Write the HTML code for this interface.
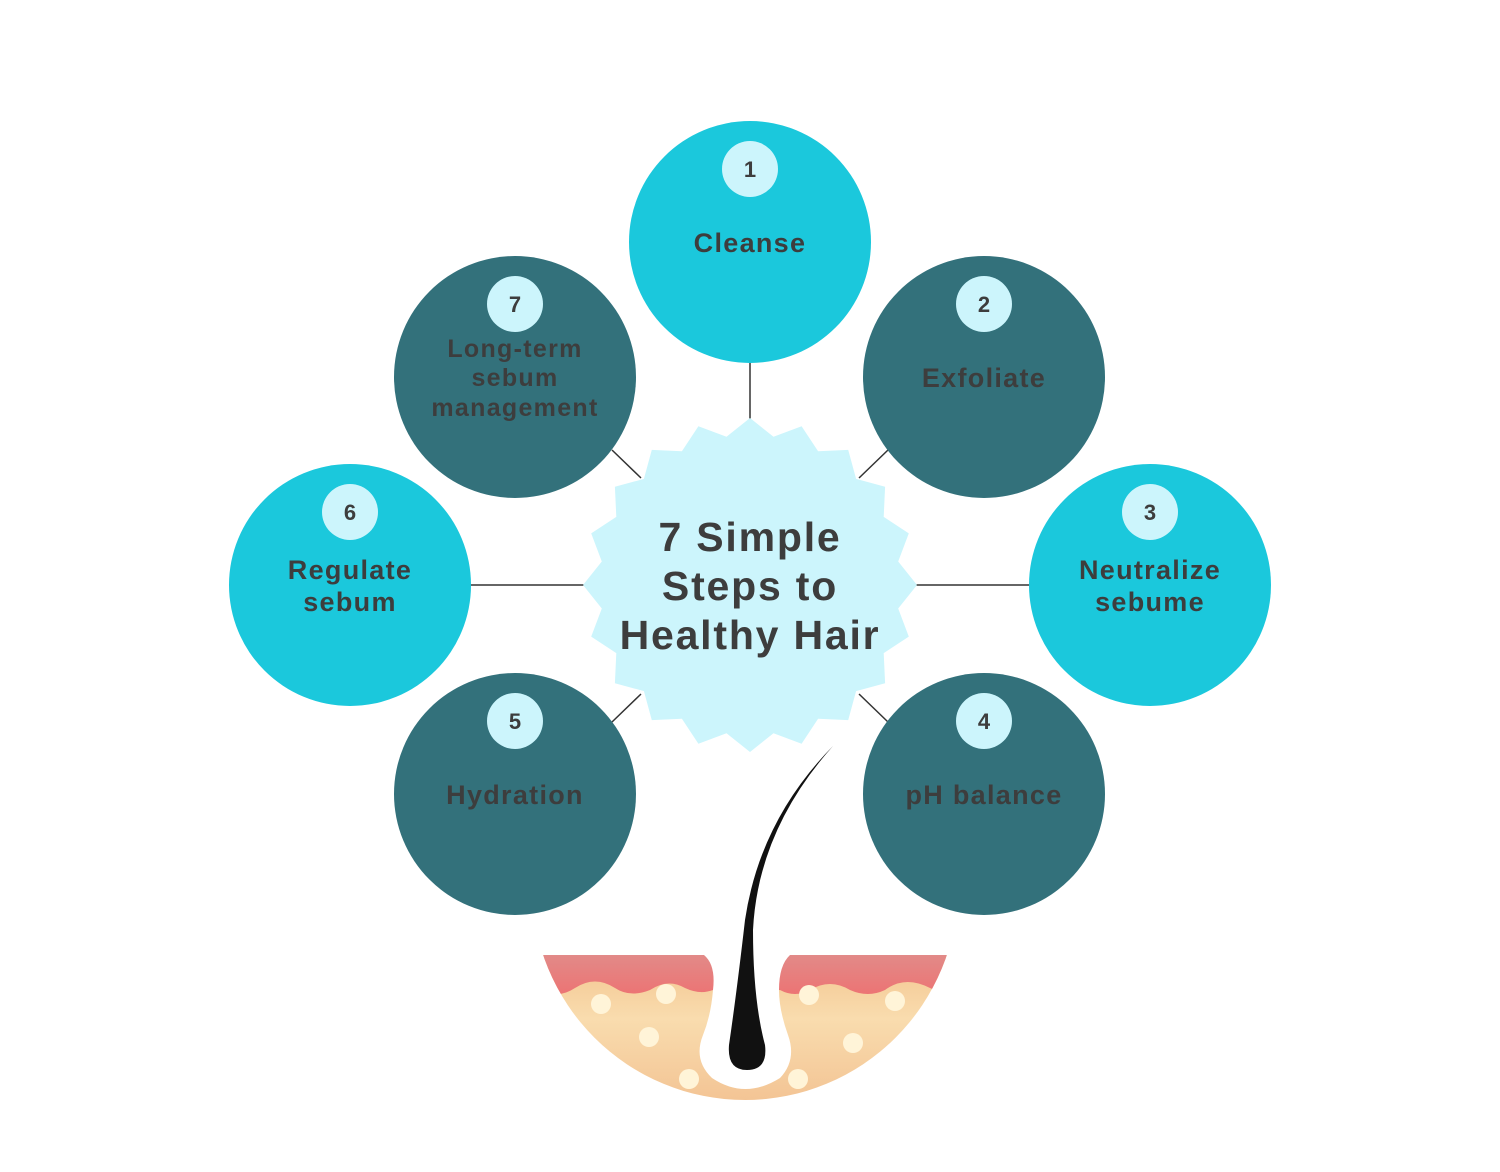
<!DOCTYPE html>
<html><head><meta charset="utf-8"><style>
html,body{margin:0;padding:0;background:#fff;}
svg{display:block}
text{font-family:"Liberation Sans",sans-serif;font-weight:bold;fill:#3d3d3d;text-anchor:middle}
</style></head><body>
<svg id="s" width="1500" height="1172" viewBox="0 0 1500 1172" xmlns="http://www.w3.org/2000/svg">
<defs>
<linearGradient id="pk" x1="0" y1="0" x2="0" y2="1"><stop offset="0" stop-color="#e28a88"/><stop offset="1" stop-color="#ec7474"/></linearGradient>
<linearGradient id="tn" x1="0" y1="0" x2="0" y2="1"><stop offset="0" stop-color="#f3c48f"/><stop offset="0.4" stop-color="#f9dcae"/><stop offset="1" stop-color="#f2c090"/></linearGradient>
<clipPath id="bowl"><circle cx="745" cy="887" r="213"/></clipPath>
</defs>
<g stroke="#333" stroke-width="1.5">
<line x1="750" y1="362" x2="750" y2="420"/>
<line x1="470" y1="585" x2="585" y2="585"/>
<line x1="915" y1="585" x2="1030" y2="585"/>
<line x1="612" y1="450" x2="641" y2="478"/>
<line x1="888" y1="450" x2="859" y2="478"/>
<line x1="612" y1="722" x2="641" y2="694"/>
<line x1="888" y1="722" x2="859" y2="694"/>
</g>
<polygon id="star" fill="#ccf5fc" points=""/>
<circle cx="750" cy="242" r="121" fill="#1bc8dc"/>
<circle cx="984" cy="377" r="121" fill="#33717b"/>
<circle cx="1150" cy="585" r="121" fill="#1bc8dc"/>
<circle cx="984" cy="794" r="121" fill="#33717b"/>
<circle cx="515" cy="794" r="121" fill="#33717b"/>
<circle cx="350" cy="585" r="121" fill="#1bc8dc"/>
<circle cx="515" cy="377" r="121" fill="#33717b"/>
<g fill="#ccf5fc">
<circle cx="750" cy="169" r="28"/><circle cx="984" cy="304" r="28"/><circle cx="1150" cy="512" r="28"/>
<circle cx="984" cy="721" r="28"/><circle cx="515" cy="721" r="28"/><circle cx="350" cy="512" r="28"/><circle cx="515" cy="304" r="28"/>
</g>
<g font-size="22">
<text x="750" y="177">1</text><text x="984" y="312">2</text><text x="1150" y="520">3</text>
<text x="984" y="729">4</text><text x="515" y="729">5</text><text x="350" y="520">6</text><text x="515" y="312">7</text>
</g>
<g font-size="27" letter-spacing="1.3">
<text x="750" y="252">Cleanse</text>
<text x="984" y="387">Exfoliate</text>
<text x="1150" y="579">Neutralize</text><text x="1150" y="611">sebume</text>
<text x="984" y="804">pH balance</text>
<text x="515" y="804">Hydration</text>
<text x="350" y="579">Regulate</text><text x="350" y="611">sebum</text>
<text x="515" y="357" font-size="25">Long-term</text><text x="515" y="386" font-size="25">sebum</text><text x="515" y="416" font-size="25">management</text>
</g>
<g font-size="41" letter-spacing="1.8">
<text x="750" y="551">7 Simple</text>
<text x="750" y="600">Steps to</text>
<text x="750" y="649">Healthy Hair</text>
</g>
<g clip-path="url(#bowl)">
<rect x="520" y="955" width="450" height="160" fill="url(#tn)"/>
<path d="M520 955 H970 V985 Q950 998 930 988 Q905 975 885 990 Q868 998 850 990 Q830 978 810 990 Q795 998 780 990 L713 990 Q700 995 685 988 Q668 978 650 990 Q630 998 615 988 Q595 975 575 988 Q560 998 545 992 L520 985 Z" fill="url(#pk)"/>
<g fill="#fff4d8">
<circle cx="601" cy="1004" r="10"/><circle cx="666" cy="994" r="10"/><circle cx="649" cy="1037" r="10"/><circle cx="689" cy="1079" r="10"/>
<circle cx="809" cy="995" r="10"/><circle cx="895" cy="1001" r="10"/><circle cx="853" cy="1043" r="10"/><circle cx="798" cy="1079" r="10"/>
</g>
<path d="M704 955 Q716 965 713 990 Q711 1015 703 1035 Q693 1060 712 1078 Q745 1100 780 1078 Q797 1060 788 1035 Q779 1010 779 990 Q779 965 790 955 Z" fill="#fff"/>
</g>
<path d="M833 746 Q760 820 745 920 Q737 990 729 1045 Q727 1070 747 1070 Q768 1070 765 1045 Q753 1000 753 930 Q758 830 833 746 Z" fill="#111"/>
</svg>
<script>
var p=[],cx=750,cy=585;
for(var i=0;i<40;i++){var a=-Math.PI/2+i*Math.PI/20,r=i%2?150:167;p.push((cx+r*Math.cos(a)).toFixed(1)+","+(cy+r*Math.sin(a)).toFixed(1));}
document.getElementById("star").setAttribute("points",p.join(" "));
</script>
</body></html>
